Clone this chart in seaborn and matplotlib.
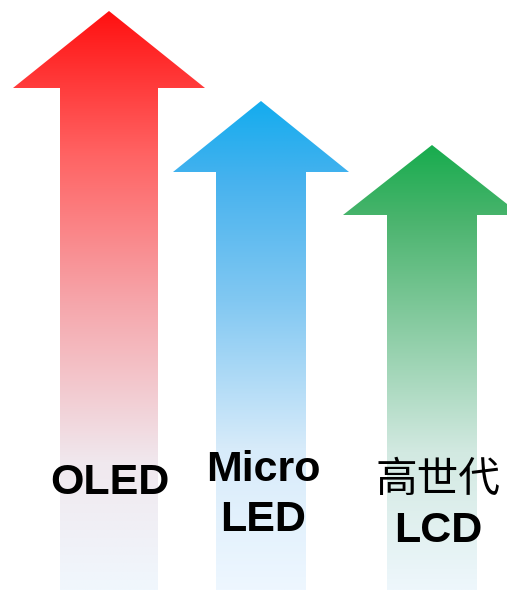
import matplotlib
matplotlib.use("Agg")
from matplotlib import pyplot as plt
from matplotlib.patches import Polygon
from matplotlib.colors import LinearSegmentedColormap
import seaborn as sns
import numpy as np

# arrow data (chart units, y grows upward, canvas 507 x 590)
labels = [["OLED"], ["Micro", "LED"], ["高世代", "LCD"]]
centers = [109, 261, 432]
tips = [579, 489, 445]
head_depth = [77, 71, 70]
head_half = [96, 88, 89]
shaft_half = [49, 45, 45]
label_x = [[110], [263], [438, 438]]
label_y = [[107], [120, 70], [110, 59]]

# gradient stops (position along arrow from tip, rgb)
grad_red = [(0, (255, 17, 17)), (0.25, (255, 100, 100)), (0.5, (246, 165, 170)),
            (0.78, (240, 232, 238)), (1, (240, 247, 253))]
grad_blue = [(0, (20, 172, 238)), (0.16, (70, 178, 238)), (0.41, (130, 200, 242)),
             (0.71, (215, 235, 250)), (1, (238, 247, 255))]
grad_green = [(0, (24, 172, 78)), (0.17, (75, 180, 110)), (0.42, (140, 205, 165)),
              (0.69, (210, 233, 225)), (1, (238, 247, 252))]
gradients = [grad_red, grad_blue, grad_green]

sns.set_style("white")
plt.rcParams['font.family'] = ['Liberation Sans', 'Noto Sans CJK SC', 'DejaVu Sans']

fig = plt.figure(figsize=(5.07, 5.90), dpi=100)
ax = fig.add_axes([0, 0, 1, 1])

for i in range(len(centers)):
    c, t = centers[i], tips[i]
    hb = t - head_depth[i]
    verts = [(c, t), (c + head_half[i], hb), (c + shaft_half[i], hb), (c + shaft_half[i], 0),
             (c - shaft_half[i], 0), (c - shaft_half[i], hb), (c - head_half[i], hb)]
    poly = Polygon(verts, closed=True, facecolor="none", edgecolor="none")
    ax.add_patch(poly)
    cmap = LinearSegmentedColormap.from_list(
        "g%d" % i, [(p, tuple(v / 255 for v in col)) for p, col in gradients[i]])
    grad = np.linspace(0, 1, 256).reshape(-1, 1)
    im = ax.imshow(grad, cmap=cmap, aspect="auto", origin="upper",
                   extent=[c - head_half[i], c + head_half[i], 0, t], interpolation="bilinear")
    im.set_clip_path(poly)

ax.set_xlim(0, 507)
ax.set_ylim(0, 590)
ax.axis("off")

for i, lines in enumerate(labels):
    for j, line in enumerate(lines):
        x = label_x[i][min(j, len(label_x[i]) - 1)]
        if any(ord(ch) > 127 for ch in line):
            ax.text(x, label_y[i][j], line, ha="center", va="center",
                    fontsize=30, fontweight="medium",
                    family=["Noto Sans CJK SC", "DejaVu Sans"], color="black")
        else:
            ax.text(x, label_y[i][j], line, ha="center", va="center",
                    fontsize=31, fontweight="bold", color="black")

fig.savefig("out.png", dpi=100)
